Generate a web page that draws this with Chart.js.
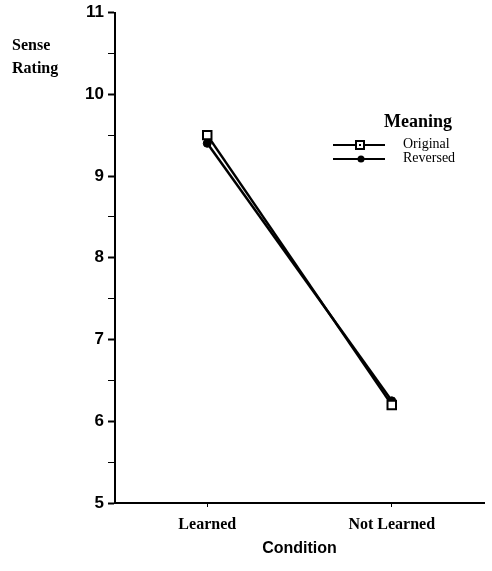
<!DOCTYPE html>
<html>
<head>
<meta charset="utf-8">
<script src="https://cdn.jsdelivr.net/npm/chart.js@4"></script>
<style>
  html, body { margin: 0; padding: 0; background: #fff; overflow: hidden; }
  #wrap { width: 492px; height: 571px; }
</style>
</head>
<body>
<div id="wrap"><canvas id="myChart"></canvas></div>
<script>
const conditions = ['Learned', 'Not Learned'];
const original = [9.5, 6.2];
const reversed = [9.4, 6.25];
const yTicks = [5, 6, 7, 8, 9, 10, 11];

const serifBold = { family: 'Liberation Serif', weight: 'bold', size: 16 };
const sansBold = { family: 'Liberation Sans', weight: 'bold', size: 17, lineHeight: 1 };

// axis caption and legend drawn by hand, the paper had them floating
const extras = {
  id: 'extras',
  afterDraw(chart) {
    const ctx = chart.ctx;
    ctx.save();
    ctx.fillStyle = '#000';
    ctx.textBaseline = 'middle';
    ctx.font = 'bold 16px "Liberation Serif"';
    ctx.textAlign = 'left';
    ctx.fillText('Sense', 12, 46);
    ctx.fillText('Rating', 12, 69);

    // legend
    ctx.font = 'bold 18px "Liberation Serif"';
    ctx.textAlign = 'center';
    ctx.fillText('Meaning', 418, 122);
    ctx.font = '14px "Liberation Serif"';
    ctx.textAlign = 'left';
    ctx.fillText('Original', 403, 144);
    ctx.fillText('Reversed', 403, 158);

    ctx.strokeStyle = '#000';
    ctx.lineWidth = 2;
    ctx.beginPath();
    ctx.moveTo(333, 145); ctx.lineTo(385, 145);
    ctx.moveTo(333, 159); ctx.lineTo(385, 159);
    ctx.stroke();

    ctx.fillStyle = '#fff';
    ctx.fillRect(356, 141, 8, 8);
    ctx.strokeRect(356, 141, 8, 8);
    ctx.fillStyle = '#000';
    ctx.fillRect(359, 144, 2, 2);
    ctx.beginPath();
    ctx.arc(361, 159, 3.5, 0, Math.PI * 2);
    ctx.fill();
    ctx.restore();
  }
};

const data = {
  labels: conditions,
  datasets: [{
    label: 'Original',
    data: original,
    borderColor: '#000',
    borderWidth: 2.5,
    pointStyle: 'rect',
    pointRadius: 6,
    pointBackgroundColor: '#fff',
    pointBorderColor: '#000',
    pointBorderWidth: 2
  }, {
    label: 'Reversed',
    data: reversed,
    borderColor: '#000',
    borderWidth: 2.5,
    pointStyle: 'circle',
    pointRadius: 4,
    pointBackgroundColor: '#000',
    pointBorderColor: '#000',
    pointBorderWidth: 1
  }]
};

const config = {
  type: 'line',
  data: data,
  options: {
    responsive: true,
    maintainAspectRatio: false,
    animation: false,
    layout: {
      padding: { top: 11, right: -5, left: 0, bottom: 0 }
    },
    plugins: {
      legend: { display: false },
      tooltip: { enabled: false }
    },
    scales: {
      x: {
        offset: true,
        afterFit(scale) { scale.height = 68; },
        grid: {
          drawOnChartArea: false,
          offset: false,
          tickLength: 4,
          tickColor: '#000'
        },
        border: { color: '#000', width: 2 },
        ticks: {
          color: '#000',
          padding: 8,
          font: serifBold
        },
        title: {
          display: true,
          text: 'Condition',
          color: '#000',
          font: { family: 'Liberation Sans', weight: 'bold', size: 16 },
          padding: { top: 0, bottom: 13 }
        }
      },
      y: {
        min: 5,
        max: 11,
        afterFit(scale) { scale.width = 115; },
        afterBuildTicks(scale) {
          const t = [];
          for (let i = 0; i < yTicks.length; i++) {
            t.push({ value: yTicks[i] });
            if (i < yTicks.length - 1) t.push({ value: yTicks[i] + 0.5 });
          }
          scale.ticks = t;
        },
        grid: {
          drawOnChartArea: false,
          tickLength: 7,
          tickColor: '#000',
          tickWidth: ctx => (ctx.tick && Number.isInteger(ctx.tick.value)) ? 2 : 1
        },
        border: { color: '#000', width: 2 },
        ticks: {
          color: '#000',
          padding: 4,
          font: sansBold,
          callback: v => Number.isInteger(v) ? v : ''
        }
      }
    }
  },
  plugins: [extras]
};

const myChart = new Chart(document.getElementById('myChart'), config);
</script>
</body>
</html>
